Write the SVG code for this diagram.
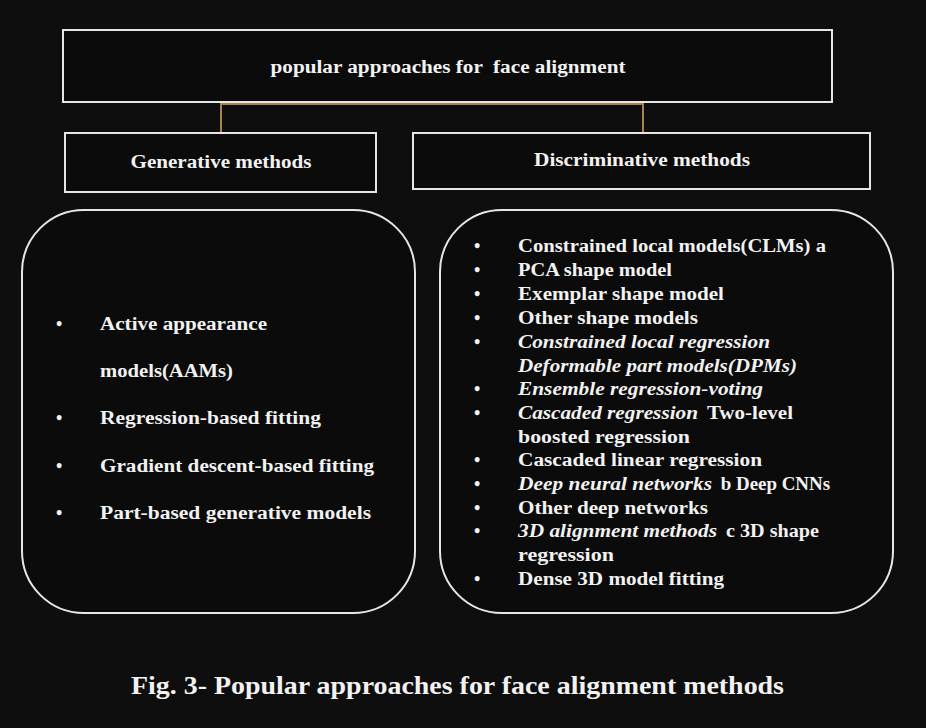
<svg xmlns="http://www.w3.org/2000/svg" width="926" height="728" viewBox="0 0 926 728">
<style>
.box{fill:#0b0b0b;stroke:#e6e6e6;stroke-width:2}
.t{font-family:"Liberation Serif","DejaVu Serif",serif;font-weight:bold;fill:#f2f2f2}
.h{font-size:18px;text-anchor:middle}
.l{font-size:18px}
.i{font-style:italic}
.c{stroke:#a8864a;stroke-width:2;fill:none}
</style>
<rect width="926" height="728" fill="#0e0e0e"/>
<g id="connectors">
<path class="c" d="M221 132 V104 H643 V132"/>
</g>
<g id="root">
<rect class="box" x="63" y="30" width="769" height="72"/>
<text class="t h" x="448" y="73" xml:space="preserve" textLength="355" lengthAdjust="spacingAndGlyphs">popular approaches for  face alignment</text>
</g>
<g id="generative">
<rect class="box" x="65" y="133" width="311" height="59"/>
<text class="t h" x="221" y="168" textLength="181" lengthAdjust="spacingAndGlyphs">Generative methods</text>
</g>
<g id="discriminative">
<rect class="box" x="413" y="133" width="457" height="56"/>
<text class="t h" x="642" y="166" textLength="216" lengthAdjust="spacingAndGlyphs">Discriminative methods</text>
</g>
<g id="generative-list">
<rect class="box" x="22" y="210" width="393" height="403" rx="62"/>
<g class="t l">
<text x="56" y="330">•</text>
<text x="100" y="330" textLength="167" lengthAdjust="spacingAndGlyphs">Active appearance</text>
<text x="100" y="377" textLength="133" lengthAdjust="spacingAndGlyphs">models(AAMs)</text>
<text x="56" y="424">•</text>
<text x="100" y="424" textLength="221" lengthAdjust="spacingAndGlyphs">Regression-based fitting</text>
<text x="56" y="472">•</text>
<text x="100" y="472" textLength="274" lengthAdjust="spacingAndGlyphs">Gradient descent-based fitting</text>
<text x="56" y="519">•</text>
<text x="100" y="519" textLength="271" lengthAdjust="spacingAndGlyphs">Part-based generative models</text>
</g>
</g>
<g id="discriminative-list">
<rect class="box" x="440" y="210" width="453" height="403" rx="62"/>
<g class="t l">
<text x="474" y="252">•</text>
<text x="518" y="252" textLength="308" lengthAdjust="spacingAndGlyphs">Constrained local models(CLMs) a</text>
<text x="474" y="276">•</text>
<text x="518" y="276" textLength="154" lengthAdjust="spacingAndGlyphs">PCA shape model</text>
<text x="474" y="300">•</text>
<text x="518" y="300" textLength="206" lengthAdjust="spacingAndGlyphs">Exemplar shape model</text>
<text x="474" y="324">•</text>
<text x="518" y="324" textLength="180" lengthAdjust="spacingAndGlyphs">Other shape models</text>
<text x="474" y="348">•</text>
<text class="i" x="518" y="348" textLength="252" lengthAdjust="spacingAndGlyphs">Constrained local regression</text>
<text class="i" x="518" y="372" textLength="279" lengthAdjust="spacingAndGlyphs">Deformable part models(DPMs)</text>
<text x="474" y="395">•</text>
<text class="i" x="518" y="395" textLength="245" lengthAdjust="spacingAndGlyphs">Ensemble regression-voting</text>
<text x="474" y="419">•</text>
<text x="518" y="419"><tspan class="i" textLength="180" lengthAdjust="spacingAndGlyphs">Cascaded regression</tspan><tspan x="702" textLength="91" lengthAdjust="spacingAndGlyphs"> Two-level</tspan></text>
<text x="518" y="443" textLength="172" lengthAdjust="spacingAndGlyphs">boosted regression</text>
<text x="474" y="466">•</text>
<text x="518" y="466" textLength="244" lengthAdjust="spacingAndGlyphs">Cascaded linear regression</text>
<text x="474" y="490">•</text>
<text x="518" y="490"><tspan class="i" textLength="194" lengthAdjust="spacingAndGlyphs">Deep neural networks</tspan><tspan x="716" textLength="114" lengthAdjust="spacingAndGlyphs"> b Deep CNNs</tspan></text>
<text x="474" y="514">•</text>
<text x="518" y="514" textLength="190" lengthAdjust="spacingAndGlyphs">Other deep networks</text>
<text x="474" y="537">•</text>
<text x="518" y="537"><tspan class="i" textLength="199" lengthAdjust="spacingAndGlyphs">3D alignment methods</tspan><tspan x="721" textLength="98" lengthAdjust="spacingAndGlyphs"> c 3D shape</tspan></text>
<text x="518" y="561" textLength="96" lengthAdjust="spacingAndGlyphs">regression</text>
<text x="474" y="585">•</text>
<text x="518" y="585" textLength="206" lengthAdjust="spacingAndGlyphs">Dense 3D model fitting</text>
</g>
</g>
<text class="t" x="131" y="694" font-size="25" textLength="653" lengthAdjust="spacingAndGlyphs">Fig. 3- Popular approaches for face alignment methods</text>
</svg>
